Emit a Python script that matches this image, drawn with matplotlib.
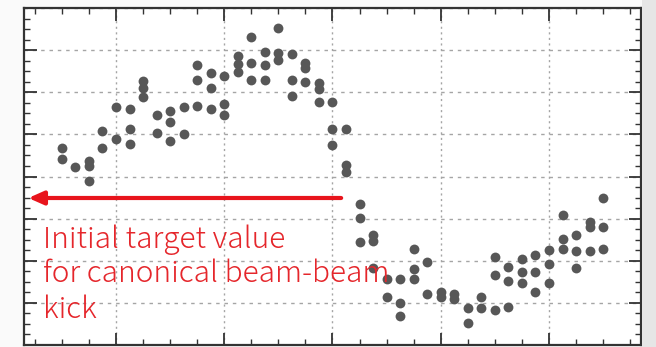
import matplotlib

matplotlib.use("Agg")
import matplotlib.pyplot as plt
from matplotlib.patches import Rectangle
from matplotlib.ticker import MultipleLocator, NullFormatter

# dot columns (x) and the y values stacked in each column
X_COLS = [
    0.5, 0.625, 0.75, 0.875, 1.0, 1.125, 1.25, 1.375, 1.5, 1.625,
    1.75, 1.875, 2.0, 2.125, 2.25, 2.375, 2.5, 2.625, 2.75, 2.875,
    3.0, 3.125, 3.25, 3.375, 3.5, 3.625, 3.75, 3.875, 4.0, 4.125,
    4.25, 4.375, 4.5, 4.625, 4.75, 4.875, 5.0, 5.125, 5.25, 5.375, 5.5,
]
Y_COLS = [
    [4.67, 4.41], [4.23], [4.38, 4.24, 3.90], [5.08, 4.68], [5.66, 4.88],
    [5.61, 5.14, 4.78], [6.27, 6.11, 5.89], [5.47, 5.04], [5.55, 5.30, 4.84],
    [5.66, 5.00], [6.64, 6.29, 5.67], [6.45, 6.09, 5.60], [6.38, 5.71, 5.46],
    [6.85, 6.67, 6.49], [7.32, 6.70, 6.29], [6.96, 6.64, 6.29],
    [7.53, 6.93, 6.76], [6.90, 6.29, 5.92], [6.69, 6.57, 6.24],
    [6.22, 6.08, 5.77], [5.77, 5.14, 4.74], [5.14, 4.27, 4.10],
    [3.34, 3.01, 2.45], [2.61, 2.46, 1.82], [1.57, 1.14], [1.57, 0.99, 0.69],
    [2.29, 1.80, 1.56], [1.98, 1.21], [1.26, 1.13], [1.21, 1.10], [0.88, 0.53],
    [1.14, 0.88], [2.10, 1.67, 0.83], [1.84, 1.51, 0.91], [2.04, 1.73, 1.46],
    [2.13, 1.73, 1.25], [2.25, 1.93, 1.46], [3.08, 2.52, 2.29],
    [2.60, 2.24, 1.82], [2.93, 2.80, 2.24], [3.49, 2.80, 2.29],
]
TARGET = 3.49
ARROW_FROM = 3.08
ARROW_TO = 0.19
LABEL_LINES = ["Initial target value", "for canonical beam-beam", "kick"]
LABEL_X = 0.326
LABEL_Y = [2.30, 1.49, 0.63]

RED = "#e5262b"
ARROW_RED = "#e8141c"
DOT = "#575757"

xs = [x for x, col in zip(X_COLS, Y_COLS) for _ in col]
ys = [y for col in Y_COLS for y in col]

fig = plt.figure(figsize=(6.56, 3.47), dpi=100, facecolor="#fafafa")
# grey strip right of the plot, as in the screenshot
fig.patches.append(Rectangle((0.978, 0), 0.022, 1, transform=fig.transFigure,
                             facecolor="#e6e6e6", edgecolor="none"))
ax = fig.add_axes([0.0366, 0.0058, 0.9405, 0.971])
ax.set_facecolor("white")
ax.scatter(xs, ys, s=50, color=DOT, linewidths=0, zorder=3)

ax.set_xlim(0.15, 5.85)
ax.set_ylim(0, 8)
ax.xaxis.set_major_locator(MultipleLocator(1))
ax.xaxis.set_minor_locator(MultipleLocator(0.25))
ax.yaxis.set_major_locator(MultipleLocator(1))
ax.yaxis.set_minor_locator(MultipleLocator(0.25))
ax.xaxis.set_major_formatter(NullFormatter())
ax.yaxis.set_major_formatter(NullFormatter())
ax.tick_params(which="both", direction="in", top=True, right=True,
               color="#333333")
ax.tick_params(which="major", length=9, width=1.3)
ax.tick_params(which="minor", length=4, width=1.0)
ax.grid(axis="y", which="major", color="#a5a5a5",
        linestyle=(0, (2.5, 3.5)), linewidth=1.0)
ax.grid(axis="x", which="major", color="#a5a5a5",
        linestyle=(0, (1.5, 2.5)), linewidth=1.0)
for spine in ax.spines.values():
    spine.set_color("#333333")
    spine.set_linewidth(1.6)

ax.annotate(
    "", xy=(ARROW_TO, TARGET), xytext=(ARROW_FROM, TARGET),
    arrowprops={"arrowstyle": "-|>,head_length=0.9,head_width=0.4",
                "color": ARROW_RED, "lw": 3, "shrinkA": 0, "shrinkB": 0},
    zorder=4,
)
for line, y in zip(LABEL_LINES, LABEL_Y):
    ax.text(LABEL_X, y, line, color=RED, fontsize=21.5, va="baseline",
            fontweight="light", family=["Noto Sans CJK JP", "DejaVu Sans"],
            zorder=5)

fig.savefig("out.png", dpi=100, facecolor=fig.get_facecolor())
